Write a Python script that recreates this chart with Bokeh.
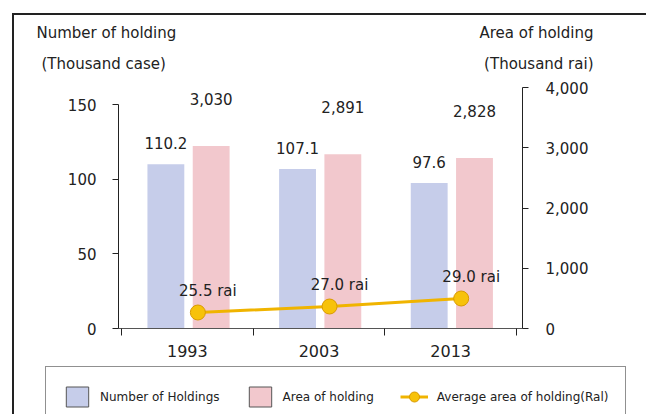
from bokeh.plotting import figure
from bokeh.layouts import column
from bokeh.models import (Range1d, LinearAxis, FixedTicker, NumeralTickFormatter,
                          ColumnDataSource, Label, Legend, LegendItem)
from bokeh.transform import dodge
from bokeh.core.properties import value
from bokeh.embed import file_html
from bokeh.resources import INLINE

# ---- data ----
years = ["1993", "2003", "2013"]
holdings = [110.2, 107.1, 97.6]          # thousand cases
area = [3030, 2891, 2828]                # thousand rai
avg_area = [25.5, 27.0, 29.0]            # rai per holding
left_ticks = [0, 50, 100, 150]
right_ticks = [0, 1000, 2000, 3000, 4000]

FONT_NAME = "DejaVu Sans"
FONT = value(FONT_NAME)
TXT = "#222222"
BLUE = "#c6cdea"
PINK = "#f2c8cd"
GOLD = "#f0b400"
W = 632

src = ColumnDataSource(dict(
    x=[i + 0.5 for i in range(len(years))],
    holdings=holdings,
    area=area,
    avg=avg_area,
    hold_lbl=[f"{v:.1f}" for v in holdings],
    area_lbl=[f"{v:,}" for v in area],
    avg_lbl=[f"{v:.1f} rai" for v in avg_area],
))


def blank(h, xr=(0, 1)):
    f = figure(width=W, height=h, output_backend="svg", toolbar_location=None,
               x_range=Range1d(*xr), y_range=Range1d(0, 1),
               x_axis_type=None, y_axis_type=None, min_border=0,
               outline_line_color=None, background_fill_color="white",
               border_fill_color="white", frame_align=False)
    f.xgrid.visible = False
    f.ygrid.visible = False
    return f


# ---- header with axis titles ----
head = blank(60)
for txt, x, y, align in [("Number of holding", 22, 43, "left"),
                         ("(Thousand case)", 27, 12, "left"),
                         ("Area of holding", 579, 43, "right"),
                         ("(Thousand rai)", 579, 12, "right")]:
    head.add_layout(Label(x=x, y=y, x_units="screen", y_units="screen", text=txt,
                          text_align=align, text_baseline="middle",
                          text_font=FONT_NAME, text_font_size="15px",
                          text_color=TXT))

# ---- main chart ----
p = figure(width=W, height=291, output_backend="svg", toolbar_location=None,
           x_range=Range1d(-0.0228, 3.0456), y_range=Range1d(0, 161.7),
           min_border_left=104, min_border_right=124, min_border_top=12,
           min_border_bottom=38, outline_line_color=None,
           background_fill_color="white", border_fill_color="white",
           frame_align=False)
p.extra_y_ranges = {"right": Range1d(0, 4000), "avg": Range1d(21.5, 81.75)}
p.xgrid.visible = False
p.ygrid.visible = False

p.vbar(x=dodge("x", -0.163, range=p.x_range), top="holdings", width=0.28,
       source=src, fill_color=BLUE, line_color=None)
p.vbar(x=dodge("x", 0.181, range=p.x_range), top="area", width=0.28,
       source=src, fill_color=PINK, line_color=None, y_range_name="right")

p.line(x=dodge("x", 0.08, range=p.x_range), y="avg", source=src,
       line_color=GOLD, line_width=3, y_range_name="avg")
p.scatter(x=dodge("x", 0.08, range=p.x_range), y="avg", source=src, size=15,
          fill_color="#f7c20a", line_color="#d99a00", line_width=1,
          y_range_name="avg")

p.text(x=dodge("x", -0.163, range=p.x_range), y="holdings", text="hold_lbl",
       source=src, y_offset=-21, text_align="center", text_baseline="middle",
       text_font=FONT, text_font_size="15px", text_color=TXT)
p.text(x=dodge("x", 0.181, range=p.x_range), y="area", text="area_lbl",
       source=src, y_offset=-47, text_align="center", text_baseline="middle",
       text_font=FONT, text_font_size="15px", text_color=TXT,
       y_range_name="right")
p.text(x=dodge("x", 0.08, range=p.x_range), y="avg", text="avg_lbl",
       source=src, x_offset=10, y_offset=-22, text_align="center",
       text_baseline="middle", text_font=FONT, text_font_size="15px",
       text_color=TXT, y_range_name="avg")

xa = p.xaxis[0]
xa.ticker = FixedTicker(ticks=[i + 0.5 for i in range(len(years))],
                        minor_ticks=list(range(len(years) + 1)))
xa.major_label_overrides = {i + 0.5: y for i, y in enumerate(years)}
xa.major_tick_line_color = None
xa.minor_tick_line_color = "#222222"
xa.minor_tick_out = 7
xa.minor_tick_in = 0
xa.axis_line_color = "#555555"
xa.major_label_standoff = 9
xa.major_label_text_font = FONT_NAME
xa.major_label_text_font_size = "16px"
xa.major_label_text_color = TXT

ya = p.yaxis[0]
ya.ticker = FixedTicker(ticks=left_ticks)
ya.bounds = (left_ticks[0], left_ticks[-1])
ya.major_tick_out = 6
ya.major_tick_in = 0
ya.minor_tick_line_color = None
ya.axis_line_color = "#222222"
ya.major_tick_line_color = "#222222"
ya.major_label_standoff = 16
ya.major_label_text_font = FONT_NAME
ya.major_label_text_font_size = "15px"
ya.major_label_text_color = TXT

ra = LinearAxis(y_range_name="right", ticker=FixedTicker(ticks=right_ticks),
                formatter=NumeralTickFormatter(format="0,0"),
                bounds=(right_ticks[0], right_ticks[-1]))
ra.major_tick_out = 6
ra.major_tick_in = 0
ra.minor_tick_line_color = None
ra.axis_line_color = "#222222"
ra.major_tick_line_color = "#222222"
ra.major_label_standoff = 17
ra.major_label_text_font = FONT_NAME
ra.major_label_text_font_size = "15px"
ra.major_label_text_color = TXT
p.add_layout(ra, "right")

# ---- footer with legend (renderers draw the series outside the footer's view,
#      only their legend glyphs are visible) ----
foot = blank(48, xr=(-20, -19))
r_b = foot.vbar(x="x", top="holdings", width=0.28, source=src,
                fill_color=BLUE, line_color="#555555")
r_p = foot.vbar(x="x", top="area", width=0.28, source=src,
                fill_color=PINK, line_color="#555555")
r_l = foot.line(x="x", y="avg", source=src, line_color=GOLD, line_width=3)
r_m = foot.scatter(x="x", y="avg", source=src, size=12,
                   fill_color="#f7c20a", line_color="#d99a00")
legend = Legend(items=[LegendItem(label="Number of Holdings", renderers=[r_b]),
                       LegendItem(label="Area of holding", renderers=[r_p]),
                       LegendItem(label="Average area of holding(Ral)",
                                  renderers=[r_l, r_m])],
                orientation="horizontal", location=(31, -13),
                glyph_width=28, glyph_height=25, label_standoff=9, spacing=26,
                padding=17, margin=0, border_line_color="#222222",
                border_line_width=1.5, background_fill_color="white",
                label_text_font=FONT_NAME, label_text_font_size="12px",
                label_text_color=TXT)
foot.add_layout(legend, "center")

layout = column(head, p, foot, spacing=0, margin=(13, 0, 0, 12),
                styles={"border-left": "2px solid #222222",
                        "border-top": "2px solid #222222"})

open("out.html", "w").write(file_html(layout, INLINE))
